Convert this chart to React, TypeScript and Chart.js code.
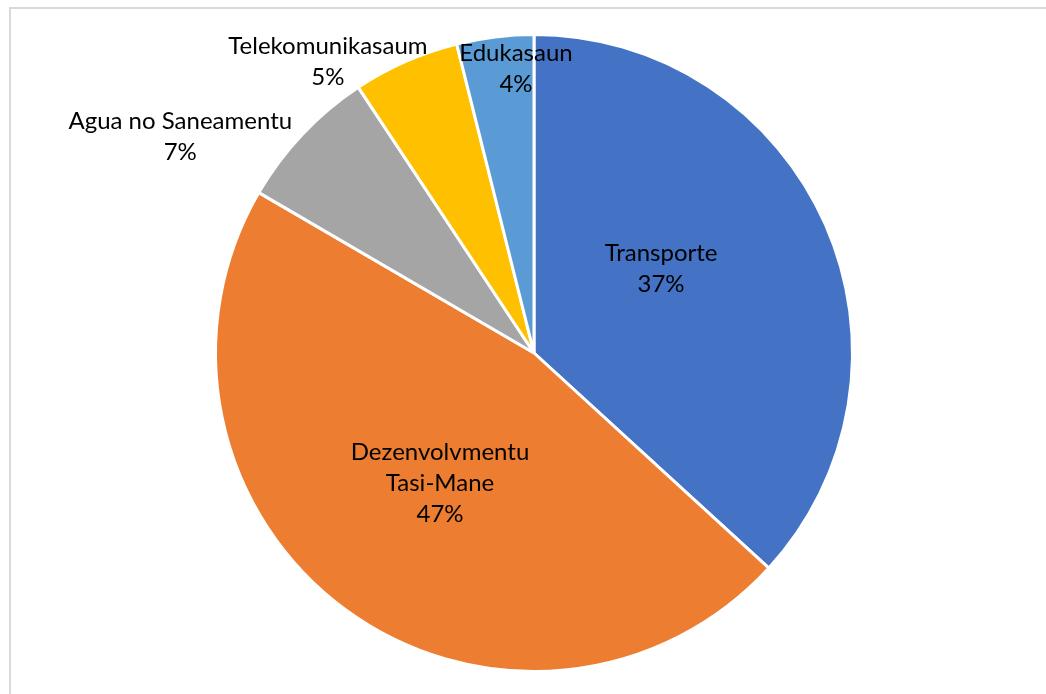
import React, { useEffect, useRef } from "react";
import { Chart, registerables } from "chart.js";

Chart.register(...registerables);

const categories: string[][] = [
  ["Transporte"],
  ["Dezenvolvmentu", "Tasi-Mane"],
  ["Agua no Saneamentu"],
  ["Telekomunikasaum"],
  ["Edukasaun"],
];
const values: number[] = [36.8, 46.6, 7.3, 5.4, 3.9];
const colors: string[] = ["#4472C4", "#ED7D31", "#A5A5A5", "#FFC000", "#5B9BD5"];

// label placement: radius as fraction of outer radius, angular shift from slice mid-angle (deg)
const labelRadius: number[] = [0.481, 0.506, 1.307, 1.126, 0.899];
const labelShift: number[] = [-9.8, -0.5, -12, -11.5, 3.4];

const FONT = "Lato, 'Open Sans', sans-serif";
const FONT_SIZE = 24;
const LINE_H = 31;

const labelPlugin = {
  id: "pieLabels",
  afterDatasetsDraw(chart: any) {
    const ctx = chart.ctx;
    const meta = chart.getDatasetMeta(0);
    const data = chart.data.datasets[0].data as number[];
    const total = data.reduce((a, b) => a + b, 0);
    ctx.save();
    ctx.font = `${FONT_SIZE}px ${FONT}`;
    ctx.fillStyle = "#000000";
    ctx.textAlign = "center";
    ctx.textBaseline = "middle";
    meta.data.forEach((arc: any, i: number) => {
      const p = arc.getProps(["x", "y", "startAngle", "endAngle", "outerRadius"], true);
      const mid = (p.startAngle + p.endAngle) / 2 + (labelShift[i] * Math.PI) / 180;
      const r = 317 * labelRadius[i] * (p.outerRadius / p.outerRadius);
      const cx = p.x + Math.cos(mid) * r;
      const cy = p.y + Math.sin(mid) * r;
      const lines = [...categories[i], `${Math.round((data[i] / total) * 100)}%`];
      const top = cy - ((lines.length - 1) * LINE_H) / 2;
      lines.forEach((t, k) => ctx.fillText(t, cx, top + k * LINE_H));
    });
    ctx.restore();
  },
};

export default function App() {
  const ref = useRef<HTMLCanvasElement | null>(null);
  useEffect(() => {
    if (!ref.current) return;
    const chart = new Chart(ref.current, {
      type: "pie",
      data: {
        labels: categories.map((c) => c.join(" ")),
        datasets: [
          {
            data: values,
            backgroundColor: colors,
            borderColor: "#ffffff",
            borderWidth: 3,
          },
        ],
      },
      options: {
        animation: false,
        responsive: false,
        layout: { padding: { left: 22, right: 0, top: 33, bottom: 21 } },
        plugins: {
          legend: { display: false },
          tooltip: { enabled: false },
        },
      },
      plugins: [labelPlugin],
    });
    return () => chart.destroy();
  }, []);

  return (
    <div style={{ position: "fixed", left: 0, top: 0, width: 1046, height: 694, background: "#fff", overflow: "hidden" }}>
      <div
        style={{
          position: "absolute",
          left: 9,
          top: 7,
          width: 1100,
          height: 760,
          borderLeft: "2px solid #d9d9d9",
          borderTop: "2px solid #d9d9d9",
        }}
      />
      <canvas ref={ref} width={1046} height={694} style={{ position: "absolute", left: 0, top: 0, width: 1046, height: 694 }} />
    </div>
  );
}
